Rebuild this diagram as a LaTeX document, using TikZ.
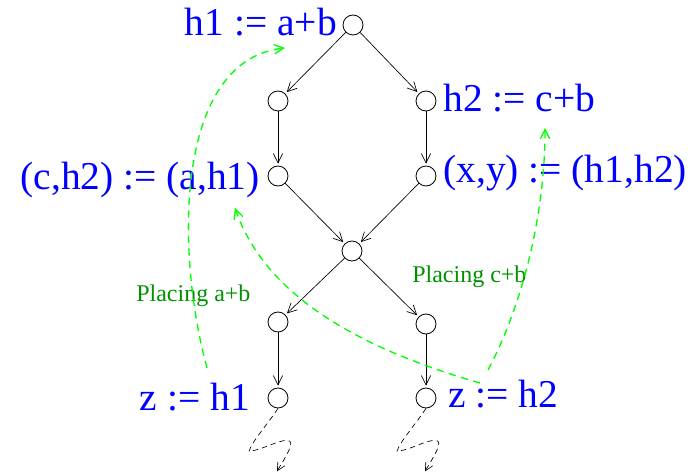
\documentclass[tikz,border=0pt]{standalone}
\usepackage{fontspec}
\setmainfont{Liberation Serif}
\usetikzlibrary{arrows.meta,positioning}
\definecolor{hintgreen}{RGB}{0,255,0}
\definecolor{placegreen}{RGB}{0,145,0}

\begin{document}
\begin{tikzpicture}[
  x=0.75pt, y=-0.75pt,
  vtx/.style={draw, circle, minimum size=15pt, inner sep=0pt, line width=0.6pt},
  lbl/.style={text=blue, font=\fontsize{29.6}{32}\selectfont, inner sep=0pt},
  note/.style={text=placegreen, font=\fontsize{18}{20}\selectfont, inner sep=0pt},
  arrow/.style={-{Straight Barb[length=7pt,width=7pt]}, line width=0.5pt, shorten >=1.5pt},
  move/.style={-{Straight Barb[length=7pt,width=7pt]}, draw=hintgreen, line width=1pt, dash pattern=on 5.5pt off 4pt},
  cont/.style={-{Straight Barb[length=6pt,width=6pt]}, line width=0.5pt, dash pattern=on 4pt off 3pt}
]
\useasboundingbox (0,0) rectangle (697,474);

% flow graph
\node[vtx] (n0) at (353,25) {};
\node[vtx] (n1) at (278,101) {};
\node[vtx] (n2) at (426,101) {};
\node[vtx] (n3) at (278,176) {};
\node[vtx] (n4) at (426,176) {};
\node[vtx] (n5) at (352,251) {};
\node[vtx] (n6) at (278,322) {};
\node[vtx] (n7) at (426,324) {};
\node[vtx] (n8) at (278,398) {};
\node[vtx] (n9) at (426,398) {};

\draw[arrow] (n0) -- (n1);
\draw[arrow] (n0) -- (n2);
\draw[arrow] (n1) -- (n3);
\draw[arrow] (n2) -- (n4);
\draw[arrow] (n3) -- (n5);
\draw[arrow] (n4) -- (n5);
\draw[arrow] (n5) -- (n6);
\draw[arrow] (n5) -- (n7);
\draw[arrow] (n6) -- (n8);
\draw[arrow] (n7) -- (n9);

\foreach \v in {n8,n9}
  \draw[cont] (\v.south) .. controls +(-12,18) and +(3,-10) .. ++(-29,43)
    .. controls +(15,-2) and +(-10,0) .. ++(38,-11)
    .. controls +(10,0) and +(8,-14) .. ++(-10,31);

% statements
\node[lbl, anchor=base east] (s0) at (337,36) {h1 := a+b};
\node[lbl, anchor=base west] (s2) at (443,112) {h2 := c+b};
\node[lbl, anchor=base east] (s3) at (260,190) {(c,h2) := (a,h1)};
\node[lbl, anchor=base west] (s4) at (443,183) {(x,y) := (h1,h2)};
\node[lbl, anchor=base east] (s8) at (250,410) {z := h1};
\node[lbl, anchor=base west] (s9) at (448,407) {z := h2};

% placements
\node[note, anchor=base west] (pab) at (136,302) {Placing a+b};
\node[note, anchor=base west] (pcb) at (412,283) {Placing c+b};

\coordinate (fromab) at (207,368);
\coordinate (toab) at (285,48);
\coordinate (fromcb) at (480,383);
\coordinate (tocopy) at (235,208);
\coordinate (fromcb2) at (488,370);
\coordinate (tocb) at (545,128);

\draw[move] (fromab) .. controls (175,250) and (175,60) .. (toab);
\draw[move] (fromcb) .. controls (330,340) and (260,280) .. (tocopy);
\draw[move] (fromcb2) .. controls (520,310) and (545,220) .. (tocb);
\end{tikzpicture}
\end{document}
